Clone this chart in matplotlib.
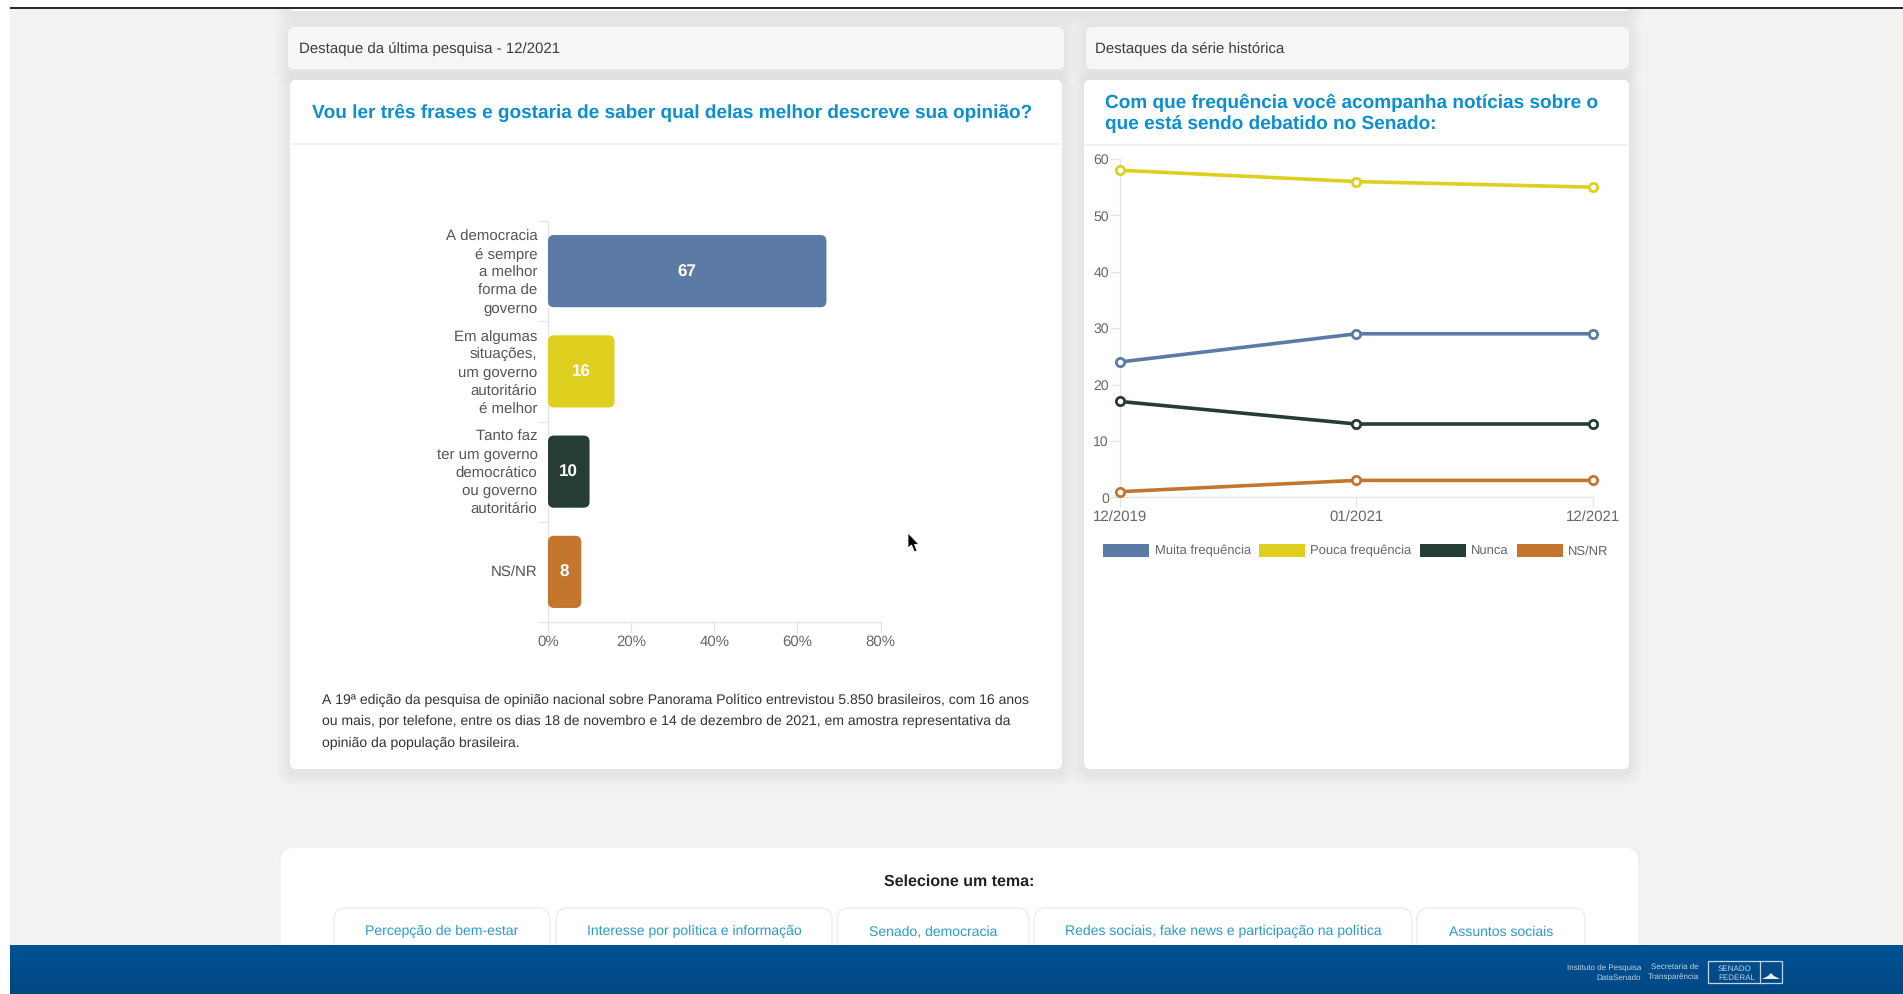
import numpy as np
import matplotlib
matplotlib.use("Agg")
import matplotlib.pyplot as plt
from matplotlib.patches import FancyBboxPatch, Patch, Polygon, Rectangle
from matplotlib.transforms import ScaledTranslation

plt.rcParams['font.family'] = ['Liberation Sans', 'DejaVu Sans']
plt.rcParams['text.hinting'] = 'no_hinting'
plt.rcParams['text.hinting_factor'] = 1

W, H = 1903, 994
PT = 0.72  # px to pt at dpi 100

# bar chart data
bar_labels = [
    "A democracia\né sempre\na melhor\nforma de\ngoverno",
    "Em algumas\nsituações,\num governo\nautoritário\né melhor",
    "Tanto faz\nter um governo\ndemocrático\nou governo\nautoritário",
    "NS/NR",
]
bar_values = [67, 16, 10, 8]
bar_colors = ["#5b7ba6", "#dfcf1e", "#263d35", "#c4762e"]
bar_ticks = [0, 20, 40, 60, 80]

# line chart data
periods = ["12/2019", "01/2021", "12/2021"]
muita = [24, 29, 29]
pouca = [58, 56, 55]
nunca = [17, 13, 13]
nsnr = [1, 3, 3]
series_names = ["Muita frequência", "Pouca frequência", "Nunca", "NS/NR"]
line_ticks = [0, 10, 20, 30, 40, 50, 60]

# page text
note_lines = [
    "A 19ª edição da pesquisa de opinião nacional sobre Panorama Político entrevistou 5.850 brasileiros, com 16 anos",
    "ou mais, por telefone, entre os dias 18 de novembro e 14 de dezembro de 2021, em amostra representativa da",
    "opinião da população brasileira.",
]
topics = ["Percepção de bem-estar", "Interesse por política e informação", "Senado, democracia",
          "Redes sociais, fake news e participação na política", "Assuntos sociais"]

BLUE = "#0b8ed2"
LINK = "#2c9ad2"
GRID = "#e4e4e4"

fig = plt.figure(figsize=(W / 100, H / 100), dpi=100, facecolor="white")

# whole page is drawn in pixel coordinates
page = fig.add_axes([0, 0, 1, 1])
page.set_xlim(0, W)
page.set_ylim(H, 0)
page.axis("off")


def px_axes(x0, y0, x1, y1):
    ax = fig.add_axes([x0 / W, 1 - y1 / H, (x1 - x0) / W, (y1 - y0) / H])
    ax.patch.set_alpha(0)
    return ax


def box(x0, y0, x1, y1, color, r=6, edge="none", z=2, alpha=1.0, lw=1):
    p = FancyBboxPatch((x0, y0), x1 - x0, y1 - y0, boxstyle=f"round,pad=0,rounding_size={r}",
                       fc=color, ec=edge, lw=lw, alpha=alpha, zorder=z)
    page.add_patch(p)


def card(x0, y0, x1, y1, color="white", z=2):
    # soft shadow from stacked boxes
    for s in range(1, 15):
        box(x0 - s, y0 - s + 4, x1 + s, y1 + s + 4, "black", r=6 + s, z=z, alpha=0.005)
    box(x0, y0, x1, y1, color, z=z + 0.1)


def txt(x, y, s, size, color="#444444", ha="left", weight="normal", z=6):
    # baseline anchored so rows stay level
    return page.text(x, y + 0.36 * size, s, fontsize=size * PT, color=color, ha=ha, va="baseline", weight=weight, zorder=z)


def fit_line(x0, x1, y, line, size):
    # the column is justified: scale the line to the column width
    t = txt(x0, y, line, size, "#333333")
    width = t.get_window_extent(fig.canvas.get_renderer()).width
    t.set_fontsize(size * PT * (x1 - x0) / width)
    return size * (x1 - x0) / width


# page background
page.add_patch(Rectangle((10, 9), W - 10, H - 9, fc="#f2f2f1", ec="none", zorder=0))
page.add_patch(Rectangle((10, 7), W - 10, 2.4, fc="#2b2b2b", ec="none", zorder=8))

# end of the card above, cut by the top bar
card(288, -20, 1630, 11, "#fbfbfb")
page.add_patch(Rectangle((10, 0), W - 10, 7, fc="white", ec="none", zorder=7))

card(288, 27, 1064, 69, "#f6f6f6", z=2)
card(1086, 27, 1629, 69, "#f6f6f6", z=2)
card(290, 80, 1062, 769, z=3)
card(1084, 80, 1629, 769, z=3)
page.plot([290, 1062], [144, 144], color="#f0f0f0", lw=1.2, zorder=4)
page.plot([1084, 1629], [145, 145], color="#f0f0f0", lw=1.2, zorder=4)

txt(299, 47, "Destaque da última pesquisa - 12/2021", 15, "#3d3d3d")
txt(1095, 47, "Destaques da série histórica", 15, "#3d3d3d")
txt(311.5, 111, "Vou ler três frases e gostaria de saber qual delas melhor descreve sua opinião?", 19.4, BLUE, weight="bold")
txt(1105, 101, "Com que frequência você acompanha notícias sobre o", 19.4, BLUE, weight="bold")
txt(1105, 122, "que está sendo debatido no Senado:", 19.4, BLUE, weight="bold")

# note under the bar chart
note_size = fit_line(322, 1029, 699, note_lines[0], 14)
fit_line(322, 1029, 720.5, note_lines[1], 14)
txt(322, 742, note_lines[2], note_size, "#333333")

# bar chart
ax = px_axes(548, 221, 880.5, 622)
ax.set_xlim(0, 80)
ax.set_ylim(3.5, -0.5)
x_scale = 332.5 / 80
y_scale = 401 / 4
for i, (v, c) in enumerate(zip(bar_values, bar_colors)):
    ax.add_patch(FancyBboxPatch((0, i - 0.36), v, 0.72,
                                boxstyle=f"round,pad=0,rounding_size={6 / x_scale}",
                                mutation_aspect=x_scale / y_scale, fc=c, ec="none", clip_on=False, zorder=3))
    ax.text(v / 2, i + 0.01, str(v), color="white", fontsize=17.5 * PT, weight="bold", ha="center", va="center", zorder=4)
ax.set_yticks(range(len(bar_labels)))
ax.set_yticklabels(bar_labels, fontsize=15 * PT, color="#555555", linespacing=1.36, ha="right")
ax.set_yticks(np.arange(-0.5, 4, 1), minor=True)
ax.tick_params(axis="y", which="major", length=0, pad=10.5 * PT)
ax.tick_params(axis="y", which="minor", length=10.5 * PT, color=GRID, width=0.9)
# tick_params resets label transforms, so nudge the wrapped labels afterwards
for t in ax.get_yticklabels()[:3]:
    t.set_transform(t.get_transform() + ScaledTranslation(0, 2 / 100, fig.dpi_scale_trans))
ax.set_xticks(bar_ticks)
ax.set_xticklabels([f"{t}%" for t in bar_ticks], fontsize=15 * PT, color="#666666")
ax.tick_params(axis="x", length=11 * PT, color=GRID, width=0.9, pad=2 * PT)
ax.get_xticklines()[0].set_color("#aaaaaa")
for s in ("top", "right"):
    ax.spines[s].set_visible(False)
for s in ("left", "bottom"):
    ax.spines[s].set_color(GRID)
    ax.spines[s].set_linewidth(0.9)

# line chart
lx = px_axes(1120, 159, 1592.8, 497.3)
lx.set_xlim(0, 2)
lx.set_ylim(0, 60)
handles = []
for vals, c, name in zip([muita, pouca, nunca, nsnr], bar_colors, series_names):
    lx.plot(range(len(periods)), vals, color=c, lw=2.6, marker="o", ms=6, mfc="white", mec=c, mew=2,
            clip_on=False, zorder=3)
    handles.append(Patch(fc=c, ec="none", label=name))
lx.set_xticks(range(len(periods)))
lx.set_xticklabels(periods, fontsize=15 * PT, color="#666666")
lx.set_yticks(line_ticks)
lx.set_yticklabels(line_ticks, fontsize=14 * PT, color="#666666")
lx.tick_params(axis="x", length=10 * PT, color=GRID, width=0.9, pad=3.5 * PT)
lx.tick_params(axis="y", length=10 * PT, color=GRID, width=0.9, pad=1 * PT)
for s in ("top", "right"):
    lx.spines[s].set_visible(False)
for s in ("left", "bottom"):
    lx.spines[s].set_color(GRID)
    lx.spines[s].set_linewidth(0.9)
lx.legend(handles=handles, ncol=4, frameon=False, fontsize=13 * PT, loc="center",
          bbox_to_anchor=(1356 / W, 1 - 550.5 / H), bbox_transform=fig.transFigure,
          handlelength=3.54, handleheight=1.23, handletextpad=0.42, columnspacing=0.62,
          labelcolor="#666666", borderpad=0, borderaxespad=0)

# topic selector
box(280, 847, 1639, 1000, "white", r=14, edge="#e8f0f6", z=2)
txt(959, 880, "Selecione um tema:", 15.6, "#222222", ha="center", weight="bold")
button_edges = [(334, 550), (556, 832), (837, 1029), (1034, 1412), (1417, 1585)]
for (x0, x1), t in zip(button_edges, topics):
    box(x0, 908, x1, 1000, "white", r=12, edge="#e6f0f7", z=3)
    txt((x0 + x1) / 2, 930.5, t, 13.8, LINK, ha="center")

# footer
grad = np.linspace(0, 1, 50).reshape(-1, 1)
foot = np.zeros((50, 1, 3))
foot[:, :, 0] = (0x00 + grad * 0x01) / 255
foot[:, :, 1] = (0x52 - grad * 0x0a) / 255
foot[:, :, 2] = (0x94 - grad * 0x10) / 255
page.imshow(foot, extent=(10, W, H, 945), aspect="auto", zorder=5)
page.set_xlim(0, W)
page.set_ylim(H, 0)
foot_txt = "#c3d3e3"
txt(1641, 967.5, "Instituto de Pesquisa", 8, foot_txt, ha="right")
txt(1641, 977.5, "DataSenado", 8, foot_txt, ha="right")
txt(1698.5, 966.5, "Secretaria de", 8, foot_txt, ha="right")
txt(1698.5, 976.5, "Transparência", 8, foot_txt, ha="right")
page.add_patch(Rectangle((1708, 961), 74, 22, fc="none", ec=foot_txt, lw=0.9, zorder=6))
page.plot([1760, 1760], [961, 983], color=foot_txt, lw=0.9, zorder=6)
txt(1718, 967.5, "SENADO", 8.5, foot_txt)
txt(1718, 977, "FEDERAL", 8.5, foot_txt)
page.add_patch(Polygon([(1762, 979), (1768, 976), (1771, 973), (1774, 976), (1780, 979)], fc="#e8eef4", ec="none", zorder=6))

# mouse pointer of the screen capture
page.add_patch(Polygon([(908, 533), (908, 548), (911.5, 545), (914.5, 552), (917, 551), (914.5, 544.5), (919, 544.5)],
                       fc="black", ec="white", lw=0.6, zorder=6))

fig.savefig("out.png", dpi=100, facecolor="white")
